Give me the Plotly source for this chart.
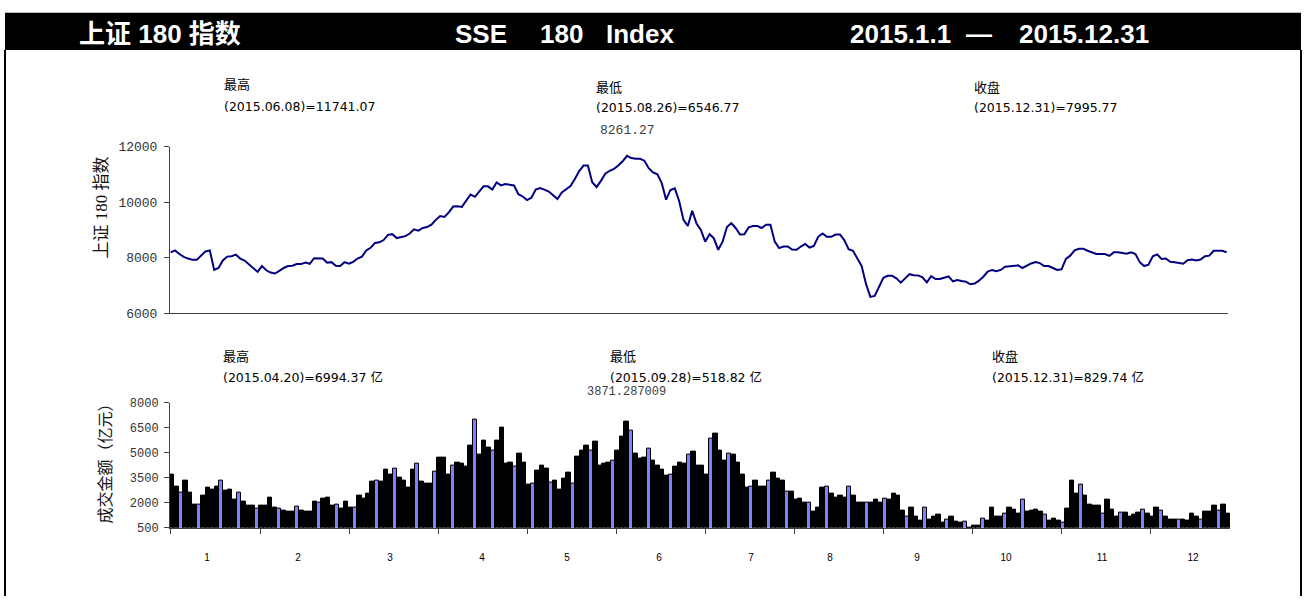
import plotly.graph_objects as go

# ---------------- data ----------------
index_close = [
    8192, 8262, 8133, 8028, 7969, 7922, 7922, 8074, 8227, 8262,
    7559, 7629, 7899, 8039, 8051, 8110, 7969, 7899, 7758, 7653,
    7488, 7699, 7547, 7465, 7430, 7524, 7629, 7699, 7711, 7770,
    7770, 7828, 7781, 7981, 7981, 7969, 7817, 7840, 7711, 7699,
    7840, 7781, 7852, 7969, 8039, 8262, 8356, 8532, 8555, 8637,
    8825, 8848, 8707, 8731, 8778, 8871, 9024, 8977, 9071, 9106,
    9188, 9364, 9504, 9469, 9633, 9844, 9856, 9832, 10067, 10278,
    10196, 10372, 10571, 10571, 10454, 10712,
    10606, 10653, 10618, 10606, 10290, 10207, 10079, 10161, 10454, 10512,
    10454, 10383, 10254, 10114, 10348, 10454, 10583, 10840, 11122, 11321,
    11321, 10723, 10547, 10770, 11028, 11133, 11204, 11321, 11473, 11672,
    11590, 11567, 11567, 11497, 11227, 11075, 11004, 10688, 10090, 10442,
    10500, 10043, 9364, 9141, 9692, 9235, 9000, 8578, 8848, 8696,
    8285, 8578, 9106, 9246, 9071, 8836, 8848, 9094, 9141, 9141,
    9071, 9188, 9188, 8578, 8344, 8403, 8403, 8297, 8285, 8403,
    8496, 8367, 8426, 8754, 8871, 8754, 8754, 8836, 8836, 8637,
    8309, 8250, 7969, 7699, 7055, 6586, 6621, 6961, 7277, 7348,
    7348, 7254,
    7102, 7254, 7406, 7371, 7360, 7289, 7113, 7336, 7231, 7231,
    7289, 7324, 7149, 7195, 7160, 7137, 7043, 7067, 7172, 7313,
    7500, 7559, 7512, 7559, 7676, 7699, 7711, 7723, 7629, 7711,
    7793, 7840, 7805, 7699, 7699, 7629, 7559, 7582, 7957, 8074,
    8262, 8320, 8320, 8250, 8192, 8133, 8133, 8133, 8063, 8192,
    8192, 8156, 8145, 8192, 8133, 7840, 7699, 7746, 8051, 8121,
    7957, 7969, 7852, 7840, 7817, 7781, 7910, 7934, 7899, 7934,
    8051, 8074, 8250, 8262, 8250, 8192,
]

turnover = [
    3675, 2974, 2604, 3344, 2604, 1883, 1883, 2448, 2877, 2779,
    2974, 3344, 2721, 2799, 2156, 2604, 2078, 1805, 1805, 1669,
    1805, 1805, 2331, 1708, 1649, 1513, 1455, 1455, 1786, 1532,
    1455, 1455, 2078, 2000, 2273, 2331, 1805, 1864, 1630, 2078,
    1727, 1708, 2448, 2273, 2545, 3266, 3344, 3266, 3967, 3714,
    4065, 3519, 3344, 2896, 3967, 4338, 3247, 3169, 3169, 3890,
    4688, 4688, 3714, 4240, 4416, 4338, 4162, 5428, 6994, 4883,
    5701, 5331, 5117, 5701, 6500, 4338, 4416, 4143, 4961, 4416,
    3091, 3130, 3948, 4240, 4065, 3227, 3325, 2799, 3422, 3792,
    3130, 4786, 5136, 5409, 5117, 5662, 4240, 4338, 4416, 4494,
    5136, 5954, 6870, 6305, 4961, 4630, 4708, 5234, 4513, 4240,
    3987, 3617, 3695, 4162, 4416, 4338, 4864, 5039, 4240, 4240,
    3714, 5857, 6130, 5136, 4513, 4942, 4864, 4416, 3695, 2877,
    2954, 3325, 2954, 2954, 3325, 3792, 3422, 3344, 2682, 2682,
    2156, 2253, 1981, 1981, 1455, 1727, 2877, 2954, 2526, 2331,
    2428, 2331, 2954, 2428, 1981, 1981, 1981, 1981, 2156, 1981,
    2253, 2156, 2526, 2428, 1532, 1143, 1708, 1143, 909, 1688,
    987, 1182, 1260, 792, 967, 1162, 890, 792, 890, 519,
    636, 636, 1065, 909, 1708, 1143, 1143, 1338, 1708, 1610,
    1338, 2156, 1474, 1532, 1610, 1474, 1260, 909, 1065, 909,
    792, 1630, 3325, 2545, 3071, 2428, 1903, 1805, 1805, 1338,
    2156, 1610, 1162, 1435, 1435, 1162, 1260, 1435, 1591, 1338,
    1162, 1708, 1513, 1162, 987, 987, 987, 987, 909, 1338,
    1162, 967, 1455, 1455, 1805, 1532, 1903, 1338,
]

month_labels = ["1", "2", "3", "4", "5", "6", "7", "8", "9", "10", "11", "12"]
index_ticks = [6000, 8000, 10000, 12000]
turnover_ticks = [500, 2000, 3500, 5000, 6500, 8000]

# ---------------- style / layout constants ----------------
W, H = 1306, 605
HIGHLIGHT_BARS = [2, 6, 11, 15, 19, 24, 28, 33, 37, 41, 46, 50, 55, 59, 63, 68, 72, 77,
                  81, 85, 90, 94, 99, 103, 107, 112, 116, 121, 125, 130, 134, 138, 143,
                  147, 152, 156, 160, 165, 169, 174, 178, 182, 187, 191, 196, 200, 204,
                  209, 213, 218, 222, 226, 231, 235]
MONTH_LABEL_POS = [7.81, 28.24, 48.9, 69.55, 88.64, 109.29, 129.95, 147.69,
                   167.22, 187.2, 208.76, 229.19]
TICK_MARK_POS = [-0.5] + [20 * k - 0.25 for k in range(1, 12)]


def px(x):
    return x / W


def py(y):
    return 1 - y / H


n_line = len(index_close)
n_bar = len(turnover)
hl = set(HIGHLIGHT_BARS)
bar_colors = ["#8080ff" if j in hl else "#000000" for j in range(n_bar)]

fig = go.Figure()
fig.add_trace(go.Scatter(
    x=list(range(n_line)), y=index_close, mode="lines",
    line=dict(color="#000080", width=2), xaxis="x", yaxis="y",
    showlegend=False, hoverinfo="skip",
))
fig.add_trace(go.Bar(
    x=list(range(n_bar)), y=turnover, base=0,
    marker=dict(color=bar_colors, line=dict(color="#000000", width=1)),
    xaxis="x2", yaxis="y2", showlegend=False, hoverinfo="skip",
))

mono = "Liberation Mono, Courier New, monospace"
sans = "DejaVu Sans, Noto Sans CJK SC, sans-serif"
axis_col = "#404040"

fig.update_layout(
    width=W, height=H,
    margin=dict(l=0, r=0, t=0, b=0),
    paper_bgcolor="white", plot_bgcolor="white",
    bargap=0,
    xaxis=dict(domain=[px(170), px(1228)], range=[-0.16, n_line - 1 + 0.3],
               anchor="y",
               showline=True, linecolor=axis_col, linewidth=1,
               showgrid=False, zeroline=False, showticklabels=False, ticks=""),
    yaxis=dict(domain=[py(315), py(144.3)], range=[6000, 12000], anchor="x",
               tickmode="array", tickvals=index_ticks,
               ticktext=[str(v) for v in index_ticks],
               ticks="outside", ticklen=5, tickcolor=axis_col,
               showline=True, linecolor=axis_col, linewidth=1,
               showgrid=False, zeroline=False,
               tickfont=dict(family=mono, size=13, color="#333333"),
               ticklabelstandoff=4),
    xaxis2=dict(domain=[px(170), px(1230)], range=[-0.5, n_bar - 0.5], anchor="y2",
                showline=True, linecolor=axis_col, linewidth=1,
                showgrid=False, zeroline=False,
                tickmode="array", tickvals=MONTH_LABEL_POS, ticktext=month_labels,
                ticks="", tickfont=dict(family="Liberation Sans, Arial", size=10, color="#000"),
                ticklabelstandoff=20,
                minor=dict(tickmode="array", tickvals=TICK_MARK_POS, ticks="outside",
                           ticklen=5, tickcolor=axis_col, showgrid=False)),
    yaxis2=dict(domain=[py(535), py(406.7)], range=[500, 8000], anchor="x2",
                tickmode="array", tickvals=turnover_ticks,
                ticktext=[str(v) for v in turnover_ticks],
                ticks="outside", ticklen=5, tickcolor=axis_col,
                showline=True, linecolor=axis_col, linewidth=1,
                showgrid=False, zeroline=False,
                tickfont=dict(family=mono, size=12, color="#333333"),
                ticklabelstandoff=3),
)

shapes = [
    dict(type="rect", xref="paper", yref="paper", x0=px(5), x1=px(1301), y0=py(45), y1=py(7),
         fillcolor="black", line=dict(width=0), layer="above"),
    dict(type="line", xref="paper", yref="paper", x0=px(5), x1=px(5), y0=py(45), y1=0,
         line=dict(color="black", width=2)),
    dict(type="line", xref="paper", yref="paper", x0=px(1301), x1=px(1301), y0=py(45), y1=0,
         line=dict(color="black", width=2)),
]
fig.update_layout(shapes=shapes)

ann = []


def text(s, x, y, size, family=sans, color="#000", xanchor="left", bold=False, angle=0):
    ann.append(dict(text=("<b>%s</b>" % s) if bold else s, x=px(x), y=py(y),
                    xref="paper", yref="paper", xanchor=xanchor, yanchor="middle",
                    showarrow=False, textangle=angle,
                    font=dict(family=family, size=size, color=color)))


hdr = "Liberation Sans, Arial, Noto Sans CJK SC"
text("上证 180 指数", 77, 28.5, 26, family=hdr, color="white", bold=True)
text("SSE", 453, 28.5, 26, family=hdr, color="white", bold=True)
text("180", 538, 28.5, 26, family=hdr, color="white", bold=True)
text("Index", 604, 28.5, 26, family=hdr, color="white", bold=True)
text("2015.1.1", 848, 28.5, 26, family=hdr, color="white", bold=True)
text("—", 978.5, 28.5, 26, family=hdr, color="white", xanchor="center", bold=True)
text("2015.12.31", 1017, 28.5, 26, family=hdr, color="white", bold=True)

# top panel annotations
text("最高", 222, 81, 13)
text("(2015.06.08)=11741.07", 222, 103, 12.5)
text("最低", 594, 83.5, 13)
text("(2015.08.26)=6546.77", 594, 104.5, 12.5)
text("8261.27", 598, 127.5, 13, family=mono, color="#404040")
text("收盘", 972, 83.5, 13)
text("(2015.12.31)=7995.77", 972, 104.5, 12.5)

# bottom panel annotations
text("最高", 221, 359.5, 13)
text("(2015.04.20)=6994.37 亿", 221, 381, 12.5)
text("最低", 608, 359.5, 13)
text("(2015.09.28)=518.82 亿", 608, 381, 12.5)
text("3871.287009", 585, 395.5, 12, family=mono, color="#404040")
text("收盘", 990, 359.5, 13)
text("(2015.12.31)=829.74 亿", 990, 381, 12.5)

# axis titles
text("上证 180 指数", 101, 206.5, 17, family="Liberation Serif, Noto Sans CJK SC",
     color="#111", xanchor="center", angle=-90)
text("成交金额（亿元）", 104, 465, 16, family="Noto Sans CJK SC", color="#111",
     xanchor="center", angle=-90)

fig.update_layout(annotations=ann)

fig.write_html("out.html", config={"displayModeBar": False},
               post_script="document.body.style.margin='0px';")
